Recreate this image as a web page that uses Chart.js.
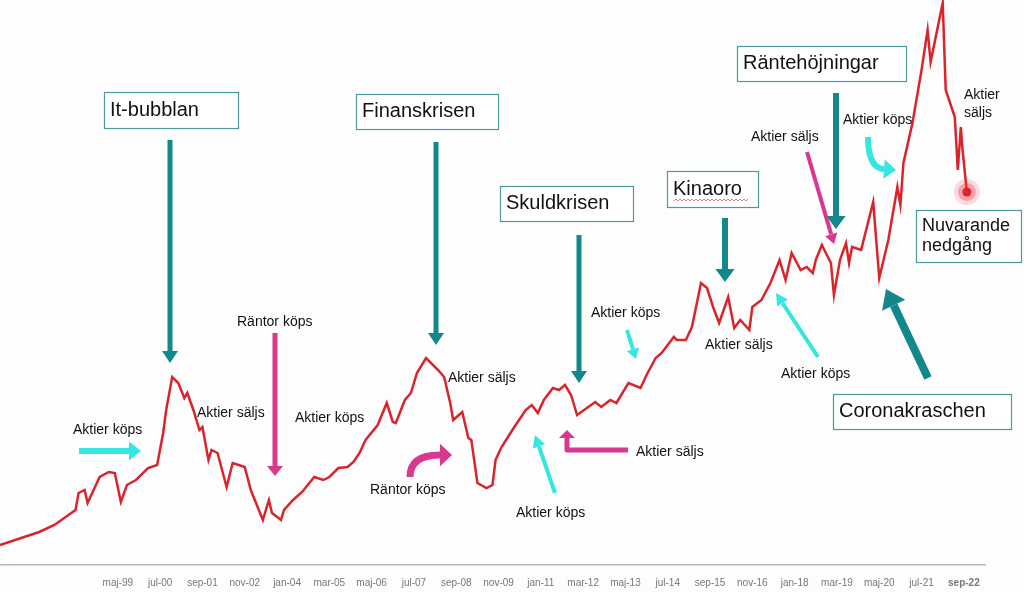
<!DOCTYPE html>
<html lang="sv">
<head>
<meta charset="UTF-8">
<title>Börsen och räntor</title>
<style>
  html, body { margin: 0; padding: 0; background: #fdfdfd; }
  #wrap { width: 1024px; height: 592px; position: relative; }
</style>
</head>
<body>
<div id="wrap"><canvas id="chart"></canvas></div>
<script src="https://cdn.jsdelivr.net/npm/chart.js"></script>
<script>
// months counted from jan-96 (0); maj-99 = 40, sep-22 = 320
const months = [1, 8, 14, 19, 26, 27, 29, 30, 34, 37, 39, 41, 43, 46, 50, 53, 55, 56, 58, 60,
  62, 63, 65, 67, 68, 70, 71, 73, 76, 78, 80, 82, 84, 88, 90, 91, 94, 95, 98, 101,
  105, 108, 110, 113, 116, 118, 120, 122, 126, 129, 131, 132, 135, 137, 139, 142, 146, 148, 150, 151,
  154, 156, 157, 159, 162, 164, 165, 167, 171, 175, 177, 179, 181, 184, 186, 188, 190, 192, 198, 200,
  203, 205, 209, 213, 215, 218, 220, 224, 225, 228, 230, 233, 235, 237, 239, 242, 244, 246, 249, 250,
  253, 256, 259, 261, 263, 266, 268, 270, 271, 273, 276, 277, 279, 281, 282, 283, 286, 290, 292, 295,
  298, 299, 300, 303, 306, 308, 309, 313, 314, 317, 318, 319, 319.5, 321];
const index = [20, 27, 33, 40, 55, 72, 75, 62, 88, 93, 92, 63, 80, 85, 97, 100, 132, 155, 188, 182,
  167, 172, 155, 135, 138, 105, 115, 112, 78, 102, 100, 98, 75, 45, 65, 52, 45, 55, 65, 73,
  88, 85, 88, 97, 98, 103, 112, 125, 140, 162, 143, 142, 165, 172, 192, 207, 195, 188, 162, 145,
  153, 127, 125, 82, 77, 80, 105, 118, 137, 155, 160, 152, 165, 177, 175, 180, 170, 150, 163, 158,
  165, 162, 182, 177, 190, 207, 212, 228, 225, 225, 238, 282, 277, 258, 242, 268, 237, 245, 235, 258,
  265, 282, 305, 285, 312, 295, 298, 292, 305, 320, 302, 270, 305, 322, 302, 318, 315, 363, 287, 325,
  378, 360, 402, 442, 495, 535, 503, 562, 475, 448, 395, 438, 417, 373];
const tickMonths = [40, 54, 68, 82, 96, 110, 124, 138, 152, 166, 180, 194, 208, 222, 236, 250, 264, 278, 292, 306, 320];
const tickLabels = ['maj-99', 'jul-00', 'sep-01', 'nov-02', 'jan-04', 'mar-05', 'maj-06', 'jul-07', 'sep-08', 'nov-09', 'jan-11',
  'mar-12', 'maj-13', 'jul-14', 'sep-15', 'nov-16', 'jan-18', 'mar-19', 'maj-20', 'jul-21', 'sep-22'];

const TEAL = '#12878c', CYAN = '#34e6df', MAGENTA = '#d8398e';

function arrow(ctx, pts, w, color, head) {
  // pts: polyline/curve points; last segment gives head direction
  ctx.save();
  ctx.strokeStyle = color; ctx.fillStyle = color; ctx.lineWidth = w; ctx.lineJoin = 'round';
  const n = pts.length;
  const [ex, ey] = pts[n - 1], [px, py] = pts[n - 2];
  const a = Math.atan2(ey - py, ex - px);
  const hl = head || w * 2.2, hw = w * 1.6;
  const bx = ex - Math.cos(a) * hl, by = ey - Math.sin(a) * hl;
  ctx.beginPath();
  ctx.moveTo(pts[0][0], pts[0][1]);
  if (n === 3 && pts.curve) ctx.quadraticCurveTo(pts[1][0], pts[1][1], bx, by);
  else { for (let i = 1; i < n - 1; i++) ctx.lineTo(pts[i][0], pts[i][1]); ctx.lineTo(bx, by); }
  ctx.stroke();
  ctx.beginPath();
  ctx.moveTo(ex, ey);
  ctx.lineTo(bx + Math.sin(a) * hw, by - Math.cos(a) * hw);
  ctx.lineTo(bx - Math.sin(a) * hw, by + Math.cos(a) * hw);
  ctx.closePath(); ctx.fill();
  ctx.restore();
}
function curved(pts) { pts.curve = true; return pts; }

function box(ctx, x, y, w, h, lines, size) {
  ctx.save();
  ctx.fillStyle = '#ffffff'; ctx.fillRect(x, y, w, h);
  ctx.strokeStyle = '#4a9aa0'; ctx.lineWidth = 1.2; ctx.strokeRect(x + 0.5, y + 0.5, w, h);
  ctx.fillStyle = '#111'; ctx.font = size + 'px "Liberation Sans", Arial, sans-serif';
  ctx.textBaseline = 'middle';
  lines.forEach((t, i) => ctx.fillText(t, x + 6, y + h / 2 + (i - (lines.length - 1) / 2) * size * 1.15));
  ctx.restore();
}
function label(ctx, x, y, t) {
  ctx.save();
  ctx.fillStyle = '#111'; ctx.font = '14px "Liberation Sans", Arial, sans-serif';
  ctx.textBaseline = 'middle'; ctx.fillText(t, x, y);
  ctx.restore();
}

const annotations = {
  id: 'annotations',
  afterDatasetsDraw(chart) {
    const ctx = chart.ctx;
    // big event arrows
    arrow(ctx, [[170, 140], [170, 363]], 5, TEAL, 12);
    arrow(ctx, [[436, 142], [436, 345]], 5, TEAL, 12);
    arrow(ctx, [[579, 235], [579, 383]], 5, TEAL, 12);
    arrow(ctx, [[725, 218], [725, 282]], 6, TEAL, 13);
    arrow(ctx, [[836, 93], [836, 229]], 6, TEAL, 13);
    arrow(ctx, [[928, 378], [886, 289]], 8, TEAL, 18);
    // magenta
    arrow(ctx, [[275, 333], [275, 476]], 5, MAGENTA, 10);
    arrow(ctx, curved([[410, 477], [410, 455], [452, 455]]), 7, MAGENTA, 12);
    arrow(ctx, [[628, 450], [567, 450], [567, 430]], 5, MAGENTA, 8);
    arrow(ctx, [[807, 152], [834, 244]], 4, MAGENTA, 10);
    // cyan
    arrow(ctx, [[79, 451], [141, 451]], 6, CYAN, 12);
    arrow(ctx, [[555, 493], [535, 435]], 4, CYAN, 12);
    arrow(ctx, [[627, 330], [636, 359]], 4, CYAN, 10);
    arrow(ctx, [[818, 357], [776, 293]], 4, CYAN, 12);
    arrow(ctx, curved([[868, 137], [868, 168], [896, 170]]), 6, CYAN, 12);
    // boxes
    box(ctx, 104, 92, 134, 36, ['It-bubblan'], 20);
    box(ctx, 356, 94, 142, 35, ['Finanskrisen'], 20);
    box(ctx, 500, 186, 133, 35, ['Skuldkrisen'], 20);
    box(ctx, 667, 171, 91, 36, ['Kinaoro'], 20);
    box(ctx, 737, 46, 169, 35, ['Räntehöjningar'], 20);
    box(ctx, 833, 394, 178, 35, ['Coronakraschen'], 20);
    box(ctx, 916, 210, 105, 52, ['Nuvarande', 'nedgång'], 18);
    // wavy underline under Kinaoro
    ctx.save(); ctx.strokeStyle = '#e05a5a'; ctx.lineWidth = 0.8; ctx.beginPath();
    for (let x = 674; x <= 748; x += 2) ctx.lineTo(x, 200 + (x % 4 ? 1 : -1));
    ctx.stroke(); ctx.restore();
    // small labels
    label(ctx, 73, 430, 'Aktier köps');
    label(ctx, 197, 413, 'Aktier säljs');
    label(ctx, 237, 322, 'Räntor köps');
    label(ctx, 295, 418, 'Aktier köps');
    label(ctx, 448, 378, 'Aktier säljs');
    label(ctx, 370, 490, 'Räntor köps');
    label(ctx, 516, 513, 'Aktier köps');
    label(ctx, 636, 452, 'Aktier säljs');
    label(ctx, 591, 313, 'Aktier köps');
    label(ctx, 705, 345, 'Aktier säljs');
    label(ctx, 781, 374, 'Aktier köps');
    label(ctx, 751, 137, 'Aktier säljs');
    label(ctx, 843, 120, 'Aktier köps');
    label(ctx, 964, 95, 'Aktier');
    label(ctx, 964, 113, 'säljs');
    // current point marker
    const last = chart.getDatasetMeta(0).data[index.length - 1];
    ctx.save();
    ctx.fillStyle = 'rgba(230,60,70,0.18)'; ctx.beginPath(); ctx.arc(last.x, last.y, 13, 0, Math.PI * 2); ctx.fill();
    ctx.fillStyle = 'rgba(230,60,70,0.35)'; ctx.beginPath(); ctx.arc(last.x, last.y, 9, 0, Math.PI * 2); ctx.fill();
    ctx.fillStyle = '#e0202c'; ctx.beginPath(); ctx.arc(last.x, last.y, 4.5, 0, Math.PI * 2); ctx.fill();
    ctx.restore();
  }
};

new Chart(document.getElementById('chart'), {
  type: 'line',
  data: {
    datasets: [{
      data: months.map((m, i) => ({ x: m, y: index[i] })),
      borderColor: '#d8242b',
      borderWidth: 2.5,
      pointRadius: 0,
      tension: 0
    }]
  },
  options: {
    responsive: true,
    maintainAspectRatio: false,
    animation: false,
    layout: { padding: { left: 0, right: 39, top: 0, bottom: 0 } },
    plugins: { legend: { display: false }, tooltip: { enabled: false } },
    scales: {
      x: {
        type: 'linear', min: 1, max: 327,
        afterBuildTicks: s => { s.ticks = tickMonths.map(v => ({ value: v })); },
        afterFit: s => { s.height = 27; },
        grid: { display: false, drawTicks: false },
        border: { display: true, color: '#b8b8b8', width: 1.5 },
        ticks: {
          padding: 12, maxRotation: 0, autoSkip: false, color: '#777',
          font: c => ({ family: '"Liberation Sans Narrow", "Liberation Sans", Arial', size: 10, weight: c.tick && c.tick.value === 320 ? 'bold' : 'normal' }),
          callback: v => tickLabels[tickMonths.indexOf(v)]
        }
      },
      y: { display: false, min: 0, max: 565 }
    }
  },
  plugins: [annotations]
});
</script>
</body>
</html>
